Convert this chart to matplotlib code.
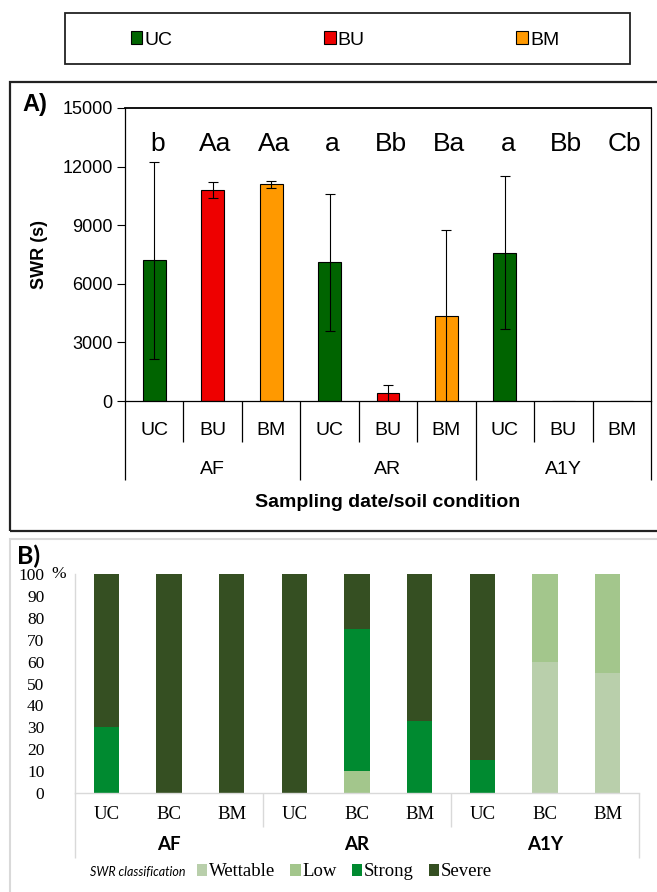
import matplotlib
matplotlib.use('Agg')
import matplotlib.pyplot as plt
from matplotlib.patches import Rectangle, Patch
from matplotlib import font_manager as fm
import numpy as np

# ---------------- data ----------------
dates = ['AF', 'AR', 'A1Y']
conditions_a = ['UC', 'BU', 'BM']
swr_mean = [7200, 10800, 11100, 7100, 400, 4350, 7600, 0, 0]
swr_err = [5050, 400, 170, 3500, 430, 4400, 3900, 0, 0]
letters = ['b', 'Aa', 'Aa', 'a', 'Bb', 'Ba', 'a', 'Bb', 'Cb']
yticks_a = [0, 3000, 6000, 9000, 12000, 15000]

conditions_b = ['UC', 'BC', 'BM']
classes = ['Wettable', 'Low', 'Strong', 'Severe']
wettable = [0, 0, 0, 0, 0, 0, 0, 60, 55]
low = [0, 0, 0, 0, 10, 0, 0, 40, 45]
strong = [30, 0, 0, 0, 65, 33, 15, 0, 0]
severe = [70, 100, 100, 100, 25, 67, 85, 0, 0]
yticks_b = list(range(0, 101, 10))

# ---------------- styles ----------------
colors_a = {'UC': '#006400', 'BU': '#ee0000', 'BM': '#ff9900'}
colors_b = ['#b9cfab', '#a3c68c', '#008a30', '#354f22']
SANS = ['Liberation Sans', 'DejaVu Sans']
SERIF = ['Liberation Serif', 'DejaVu Serif']
CAL = ['Lato', 'DejaVu Sans']
GRAY = '#d9d9d9'

# pick a narrow sans if one is installed
NARROW = SANS
try:
    f = fm.findfont(fm.FontProperties(family='Liberation Sans Narrow'), fallback_to_default=False)
    if 'Narrow' in f:
        NARROW = ['Liberation Sans Narrow', 'Liberation Sans', 'DejaVu Sans']
except Exception:
    pass

W, H = 657, 892
fig = plt.figure(figsize=(W / 100, H / 100), dpi=100)

def fx(px):
    return px / W

def fy(py):
    return 1 - py / H

# ---------------- frames ----------------
fig.patches.append(Rectangle((fx(65), fy(64)), fx(630) - fx(65), fy(13) - fy(64),
                             transform=fig.transFigure, fill=False,
                             edgecolor='#222222', lw=1.3))
fig.patches.append(Rectangle((fx(10), fy(531)), fx(700) - fx(10), fy(82) - fy(531),
                             transform=fig.transFigure, fill=False,
                             edgecolor='#222222', lw=1.6))
fig.patches.append(Rectangle((fx(10), fy(950)), fx(700) - fx(10), fy(539) - fy(950),
                             transform=fig.transFigure, fill=False,
                             edgecolor=GRAY, lw=1.5))

# ---------------- panel A ----------------
axA = fig.add_axes([fx(125), fy(401), fx(651) - fx(125), fy(108) - fy(401)])
n = len(swr_mean)
x = np.arange(n)
bar_cols = [colors_a[conditions_a[i % 3]] for i in range(n)]
axA.bar(x, swr_mean, width=0.39, color=bar_cols, edgecolor='black', lw=0.8, zorder=2)
xe = [xi for xi, e in zip(x, swr_err) if e > 0]
ye = [m for m, e in zip(swr_mean, swr_err) if e > 0]
ee = [e for e in swr_err if e > 0]
axA.errorbar(xe, ye, yerr=ee, fmt='none', ecolor='black', elinewidth=0.8,
             capsize=3.5, capthick=0.8, zorder=3)
for xi, lab in zip(x, letters):
    axA.text(xi + 0.05, 13150, lab, ha='center', va='center', fontsize=19,
             family=SANS, color='black')
axA.set_xlim(-0.5, n - 0.5)
axA.set_ylim(0, 15000)
axA.set_yticks(yticks_a)
axA.set_yticklabels([str(v) for v in yticks_a], family=NARROW, fontsize=13)
axA.tick_params(axis='y', direction='out', length=6, width=0.8, pad=3)
axA.set_xticks([])
for s in axA.spines.values():
    s.set_linewidth(0.9)
    s.set_color('black')
axA.spines['top'].set_linewidth(1.3)
trA = axA.get_xaxis_transform()
for b in np.arange(-0.5, n, 1.0):
    is_group = (round(b + 0.5) % 3 == 0)
    y_end = -0.27 if is_group else -0.14
    axA.plot([b, b], [0, y_end], transform=trA, color='black', lw=0.9,
             clip_on=False, solid_capstyle='butt')
for i in range(n):
    axA.text(x[i], -0.102, conditions_a[i % 3], transform=trA, ha='center',
             va='center', fontsize=14, family=NARROW)
for g, d in enumerate(dates):
    axA.text(3 * g + 1, -0.235, d, transform=trA, ha='center', va='center',
             fontsize=14, family=NARROW)
axA.text(0.5, -0.348, 'Sampling date/soil condition', transform=axA.transAxes,
         ha='center', va='center', fontsize=14, fontweight='bold', family=NARROW)
axA.set_ylabel('SWR (s)', fontsize=13, fontweight='bold', family=NARROW, labelpad=10)
fig.text(fx(22), fy(104), 'A)', fontsize=17, fontweight='bold', family=SANS,
         ha='left', va='center')

handles_a = [Patch(facecolor=colors_a[c], edgecolor='black', lw=0.8, label=c)
             for c in conditions_a]
fig.legend(handles=handles_a, loc='center', bbox_to_anchor=(fx(345), fy(40)),
           ncol=3, frameon=False, prop={'family': NARROW, 'size': 14},
           handlelength=0.6, handleheight=0.6, handletextpad=0.1,
           columnspacing=7.8, borderpad=0)

# ---------------- panel B ----------------
axB = fig.add_axes([fx(75), fy(793), fx(639) - fx(75), fy(574) - fy(793)])
bottom = np.zeros(n)
series = [wettable, low, strong, severe]
for vals, col, name in zip(series, colors_b, classes):
    axB.bar(x, vals, bottom=bottom, width=0.4, color=col, label=name, zorder=2)
    bottom += np.array(vals)
axB.set_xlim(-0.5, n - 0.5)
axB.set_ylim(0, 100)
axB.set_yticks(yticks_b)
axB.set_yticklabels([str(v) for v in yticks_b], family=SERIF, fontsize=12.5)
axB.tick_params(axis='y', length=0, pad=22)
axB.set_xticks([])
for k in ['top', 'right']:
    axB.spines[k].set_visible(False)
for k in ['left', 'bottom']:
    axB.spines[k].set_color(GRAY)
    axB.spines[k].set_linewidth(1.0)
trB = axB.get_xaxis_transform()
for b in [-0.5, 2.5, 5.5, 8.5]:
    y_end = -0.297 if b in (-0.5, 8.5) else -0.155
    axB.plot([b, b], [0, y_end], transform=trB, color=GRAY, lw=1.0,
             clip_on=False, solid_capstyle='butt')
for i in range(n):
    axB.text(x[i], -0.096, conditions_b[i % 3], transform=trB, ha='center',
             va='center', fontsize=13.5, family=SERIF)
for g, d in enumerate(dates):
    axB.text(3 * g + 1, -0.233, d, transform=trB, ha='center', va='center',
             fontsize=13.5, fontweight='bold', family=CAL)
fig.text(fx(59), fy(574), '%', ha='center', va='center',
         fontsize=12.5, family=SERIF)
fig.text(fx(17), fy(556), 'B)', fontsize=18, fontweight='bold', family=CAL,
         ha='left', va='center')

fig.text(fx(90), fy(872), 'SWR classification', fontsize=9, style='italic',
         family=CAL, ha='left', va='center')
hb, lb = axB.get_legend_handles_labels()
fig.legend(hb, lb, loc='center left', bbox_to_anchor=(fx(197), fy(872)),
           ncol=4, frameon=False, prop={'family': SERIF, 'size': 13.5},
           handlelength=0.55, handleheight=0.55, handletextpad=0.1,
           columnspacing=0.8, borderpad=0, borderaxespad=0)

fig.savefig('out.png', dpi=100)
